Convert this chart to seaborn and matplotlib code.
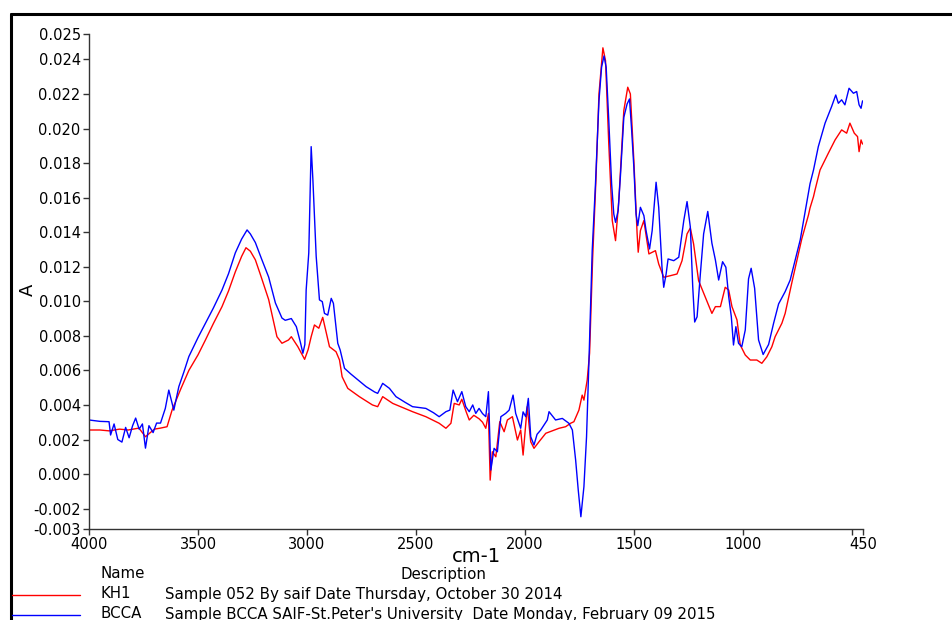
import matplotlib
matplotlib.use("Agg")
import matplotlib.pyplot as plt
import seaborn as sns
import numpy as np
import pandas as pd
from matplotlib.lines import Line2D

# ---------------- data (absorbance in units of 1e-3) ----------------
bcca_wn = [4000, 3950, 3908, 3901, 3885, 3868, 3849, 3832, 3816, 3800, 3786, 3770, 3755, 3741,
           3725, 3706, 3690, 3672, 3650, 3634, 3611, 3588, 3565, 3542, 3500, 3466, 3430, 3390,
           3360, 3329, 3300, 3275, 3260, 3237, 3210, 3176, 3145, 3115, 3100, 3072, 3049, 3030,
           3019, 3010, 3004, 2992, 2981, 2973, 2958, 2943, 2930, 2920, 2905, 2889, 2879, 2859,
           2848, 2828, 2800, 2775, 2729, 2690, 2676, 2653, 2622, 2592, 2550, 2516, 2455, 2420,
           2394, 2363, 2345, 2330, 2310, 2290, 2272, 2256, 2240, 2226, 2211, 2195, 2180, 2168,
           2157, 2142, 2127, 2111, 2089, 2073, 2055, 2043, 2020, 2009, 1997, 1985, 1974, 1959,
           1945, 1928, 1898, 1890, 1860, 1829, 1799, 1783, 1768, 1756, 1744, 1730, 1718, 1707,
           1692, 1677, 1661, 1649, 1638, 1628, 1616, 1603, 1593, 1585, 1573, 1562, 1547, 1532,
           1521, 1512, 1501, 1491, 1483, 1471, 1455, 1445, 1429, 1417, 1399, 1387, 1372, 1364,
           1353, 1344, 1318, 1295, 1272, 1257, 1242, 1231, 1222, 1211, 1196, 1181, 1162, 1143,
           1127, 1112, 1094, 1079, 1066, 1054, 1044, 1033, 1021, 1006, 990, 975, 963, 947, 929,
           908, 883, 860, 837, 807, 784, 761, 738, 715, 693, 677, 655, 624, 594, 575, 563, 548,
           533, 514, 494, 479, 468, 459, 452]
bcca_abs = [3.13, 3.05, 3.03, 2.26, 2.9, 2.0, 1.85, 2.7, 2.1, 2.8, 3.24, 2.6, 2.9, 1.5,
            2.8, 2.4, 2.95, 2.95, 3.8, 4.86, 3.7, 5.06, 5.9, 6.8, 7.9, 8.73, 9.6, 10.65,
            11.6, 12.8, 13.6, 14.13, 13.9, 13.4, 12.5, 11.4, 9.9, 9.03, 8.9, 9.0, 8.53, 7.6,
            6.99, 7.5, 10.65, 12.8, 18.95, 17.0, 12.6, 10.08, 9.98, 9.3, 9.2, 10.17, 9.88, 7.57,
            7.18, 6.12, 5.8, 5.54, 5.06, 4.75, 4.67, 5.25, 4.96, 4.48, 4.15, 3.9, 3.8, 3.55,
            3.32, 3.61, 3.7, 4.86, 4.19, 4.77, 3.9, 3.61, 4.0, 3.51, 3.8, 3.5, 3.32, 4.77,
            0.23, 1.49, 1.29, 3.32, 3.51, 3.7, 4.57, 3.51, 2.65, 3.6, 3.32, 4.38, 2.16, 1.68,
            2.3, 2.55, 3.13, 3.61, 3.13, 3.22, 2.94, 2.55, 0.81, -0.93, -2.47, -0.73, 2.16, 6.5,
            12.93, 16.8, 21.6, 23.55, 24.2, 23.55, 20.46, 16.8, 15.05, 14.57, 15.25, 17.37, 20.65, 21.42,
            21.71, 20.08, 17.76, 15.05, 14.38, 15.44, 14.96, 14.09, 13.03, 14.09, 16.89, 15.44, 11.97, 10.81,
            11.58, 12.45, 12.35, 12.55, 14.67, 15.77, 14.3, 10.85, 8.8, 9.1, 11.58, 13.9, 15.2, 13.36,
            12.39, 11.23, 12.29, 11.97, 10.27, 9.11, 7.47, 8.53, 7.57, 7.37, 8.34, 11.3, 11.91, 10.75, 7.76,
            6.92, 7.5, 8.73, 9.85, 10.56, 11.23, 12.39, 13.55, 15.2, 16.8, 17.6, 18.95, 20.31, 21.27, 21.94, 21.46, 21.66,
            21.37, 22.33, 22.04, 22.14, 21.37, 21.17, 21.6]

kh1_wn = [4000, 3950, 3908, 3860, 3820, 3771, 3741, 3700, 3672, 3642, 3619, 3580, 3542, 3500,
          3466, 3430, 3390, 3360, 3329, 3300, 3280, 3260, 3237, 3210, 3176, 3138, 3115, 3085,
          3072, 3042, 3011, 2995, 2981, 2966, 2946, 2928, 2912, 2897, 2867, 2851, 2839, 2813,
          2760, 2700, 2676, 2653, 2607, 2516, 2455, 2394, 2363, 2340, 2325, 2302, 2290, 2270,
          2256, 2235, 2211, 2195, 2180, 2168, 2160, 2150, 2134, 2116, 2096, 2081, 2058, 2035,
          2020, 2009, 1990, 1974, 1959, 1936, 1905, 1844, 1814, 1791, 1776, 1753, 1738, 1730,
          1715, 1704, 1690, 1675, 1661, 1643, 1631, 1616, 1600, 1585, 1570, 1547, 1529, 1517,
          1501, 1486, 1481, 1471, 1455, 1432, 1402, 1387, 1364, 1334, 1303, 1280, 1257, 1242,
          1227, 1204, 1173, 1143, 1127, 1104, 1082, 1066, 1051, 1028, 1013, 990, 967, 937,
          914, 891, 868, 853, 822, 807, 777, 731, 700, 693, 677, 670, 647, 609, 578, 548,
          525, 510, 490, 475, 468, 459, 452]
kh1_abs = [2.55, 2.55, 2.5, 2.6, 2.55, 2.66, 2.16, 2.6, 2.66, 2.74, 3.7, 4.9, 6.0, 6.9,
           7.76, 8.7, 9.69, 10.6, 11.7, 12.6, 13.1, 12.9, 12.4, 11.4, 10.1, 7.95, 7.57, 7.76,
           7.95, 7.37, 6.64, 7.2, 7.95, 8.63, 8.44, 9.07, 8.2, 7.37, 7.08, 6.6, 5.63, 4.96,
           4.48, 4.0, 3.9, 4.48, 4.09, 3.61, 3.32, 2.94, 2.65, 2.94, 4.09, 4.0, 4.33, 3.6,
           3.13, 3.4, 3.2, 3.0, 2.65, 3.51, -0.35, 1.29, 1.0, 3.03, 2.45, 3.13, 3.32, 1.97,
           2.55, 1.1, 3.9, 1.87, 1.49, 1.87, 2.36, 2.65, 2.74, 2.94, 3.03, 3.7, 4.57, 4.28,
           5.44, 7.0, 12.5, 17.0, 22.0, 24.67, 23.93, 19.1, 14.67, 13.51, 15.83, 21.04, 22.39, 22.0,
           18.14, 13.9, 12.84, 14.09, 14.67, 12.74, 12.93, 12.16, 11.39, 11.48, 11.58, 12.35, 13.9, 14.24,
           13.32, 11.19, 10.23, 9.3, 9.69, 9.69, 10.81, 10.65, 9.69, 8.92, 7.47, 6.89, 6.6, 6.6,
           6.41, 6.79, 7.37, 7.95, 8.73, 9.3, 11.04, 13.6, 15.0, 15.4, 16.06, 16.44, 17.6, 18.57, 19.34, 19.92,
           19.73, 20.31, 19.73, 19.53, 18.66, 19.34, 19.1]

names = ["KH1", "BCCA"]
descriptions = ["Sample 052 By saif Date Thursday, October 30 2014",
                "Sample BCCA SAIF-St.Peter's University  Date Monday, February 09 2015"]
colors = ["#ff0000", "#0000ff"]

x_ticks = [4000, 3500, 3000, 2500, 2000, 1500, 1000, 500, 450]
x_labels = ["4000", "3500", "3000", "2500", "2000", "1500", "1000", "", "450"]
y_min, y_max = -0.00318, 0.02547
y_ticks = [y_min, -0.002, 0.000, 0.002, 0.004, 0.006, 0.008, 0.010, 0.012, 0.014,
           0.016, 0.018, 0.020, 0.022, 0.024, y_max]
y_labels = ["-0.003", "-0.002", "0.000", "0.002", "0.004", "0.006", "0.008", "0.010",
            "0.012", "0.014", "0.016", "0.018", "0.020", "0.022", "0.024", "0.025"]

# ---------------- build frame ----------------
df = pd.concat([
    pd.DataFrame({"wn": kh1_wn, "A": np.array(kh1_abs) * 1e-3, "name": "KH1"}),
    pd.DataFrame({"wn": bcca_wn, "A": np.array(bcca_abs) * 1e-3, "name": "BCCA"}),
])

sns.set_style("white")
plt.rcParams["font.family"] = ["DejaVu Sans"]
plt.rcParams["text.color"] = "black"
plt.rcParams["axes.labelcolor"] = "black"
plt.rcParams["xtick.color"] = "black"
plt.rcParams["ytick.color"] = "black"

fig = plt.figure(figsize=(9.52, 6.2), dpi=100)
ax = fig.add_axes([89 / 952, 1 - 529 / 620, (863 - 89) / 952, (529 - 34) / 620])

for nm, col in zip(names, colors):
    sub = df[df["name"] == nm]
    sns.lineplot(data=sub, x="wn", y="A", color=col, linewidth=1.0,
                 estimator=None, sort=False, ax=ax, legend=False)

ax.set_xlim(4000, 450)
ax.set_ylim(y_min, y_max)
ax.set_xticks(x_ticks)
ax.set_xticklabels(x_labels)
ax.set_yticks(y_ticks)
ax.set_yticklabels(y_labels)
ax.tick_params(axis="both", direction="out", length=4, width=1, color="#333333",
               labelcolor="black", labelsize=10.5, pad=2, bottom=True, left=True)
for s in ["top", "right"]:
    ax.spines[s].set_visible(False)
for s in ["left", "bottom"]:
    ax.spines[s].set_color("#333333")
    ax.spines[s].set_linewidth(1.0)

ax.set_xlabel("cm-1", fontsize=14, va="center")
ax.xaxis.set_label_coords(0.5, -(557 - 529) / 495)
ax.set_ylabel("A", fontsize=13, va="center")
ax.yaxis.set_label_coords(-(89 - 28) / 774, (529 - 290) / 495)

# outer frame lines (figure coordinates)
fig.add_artist(Line2D([11 / 952, 1.0], [1 - 14 / 620, 1 - 14 / 620],
                      transform=fig.transFigure, color="black", linewidth=2.2))
fig.add_artist(Line2D([11 / 952, 11 / 952], [1 - 14 / 620, 0.0],
                      transform=fig.transFigure, color="black", linewidth=2.2))

# legend table beneath
fs = 10.8
fig.text(100 / 952, 1 - 574 / 620, "Name", fontsize=fs, va="center", ha="left")
fig.text(444 / 952, 1 - 574 / 620, "Description", fontsize=fs, va="center", ha="center")
rows_y = [594, 614]
for nm, desc, col, yy in zip(names, descriptions, colors, rows_y):
    fig.add_artist(Line2D([12 / 952, 80 / 952], [1 - (yy + 1) / 620, 1 - (yy + 1) / 620],
                          transform=fig.transFigure, color=col, linewidth=1.0))
    fig.text(100 / 952, 1 - yy / 620, nm, fontsize=fs, va="center", ha="left")
    fig.text(165 / 952, 1 - yy / 620, desc, fontsize=fs, va="center", ha="left")

fig.savefig("out.png", dpi=100)
